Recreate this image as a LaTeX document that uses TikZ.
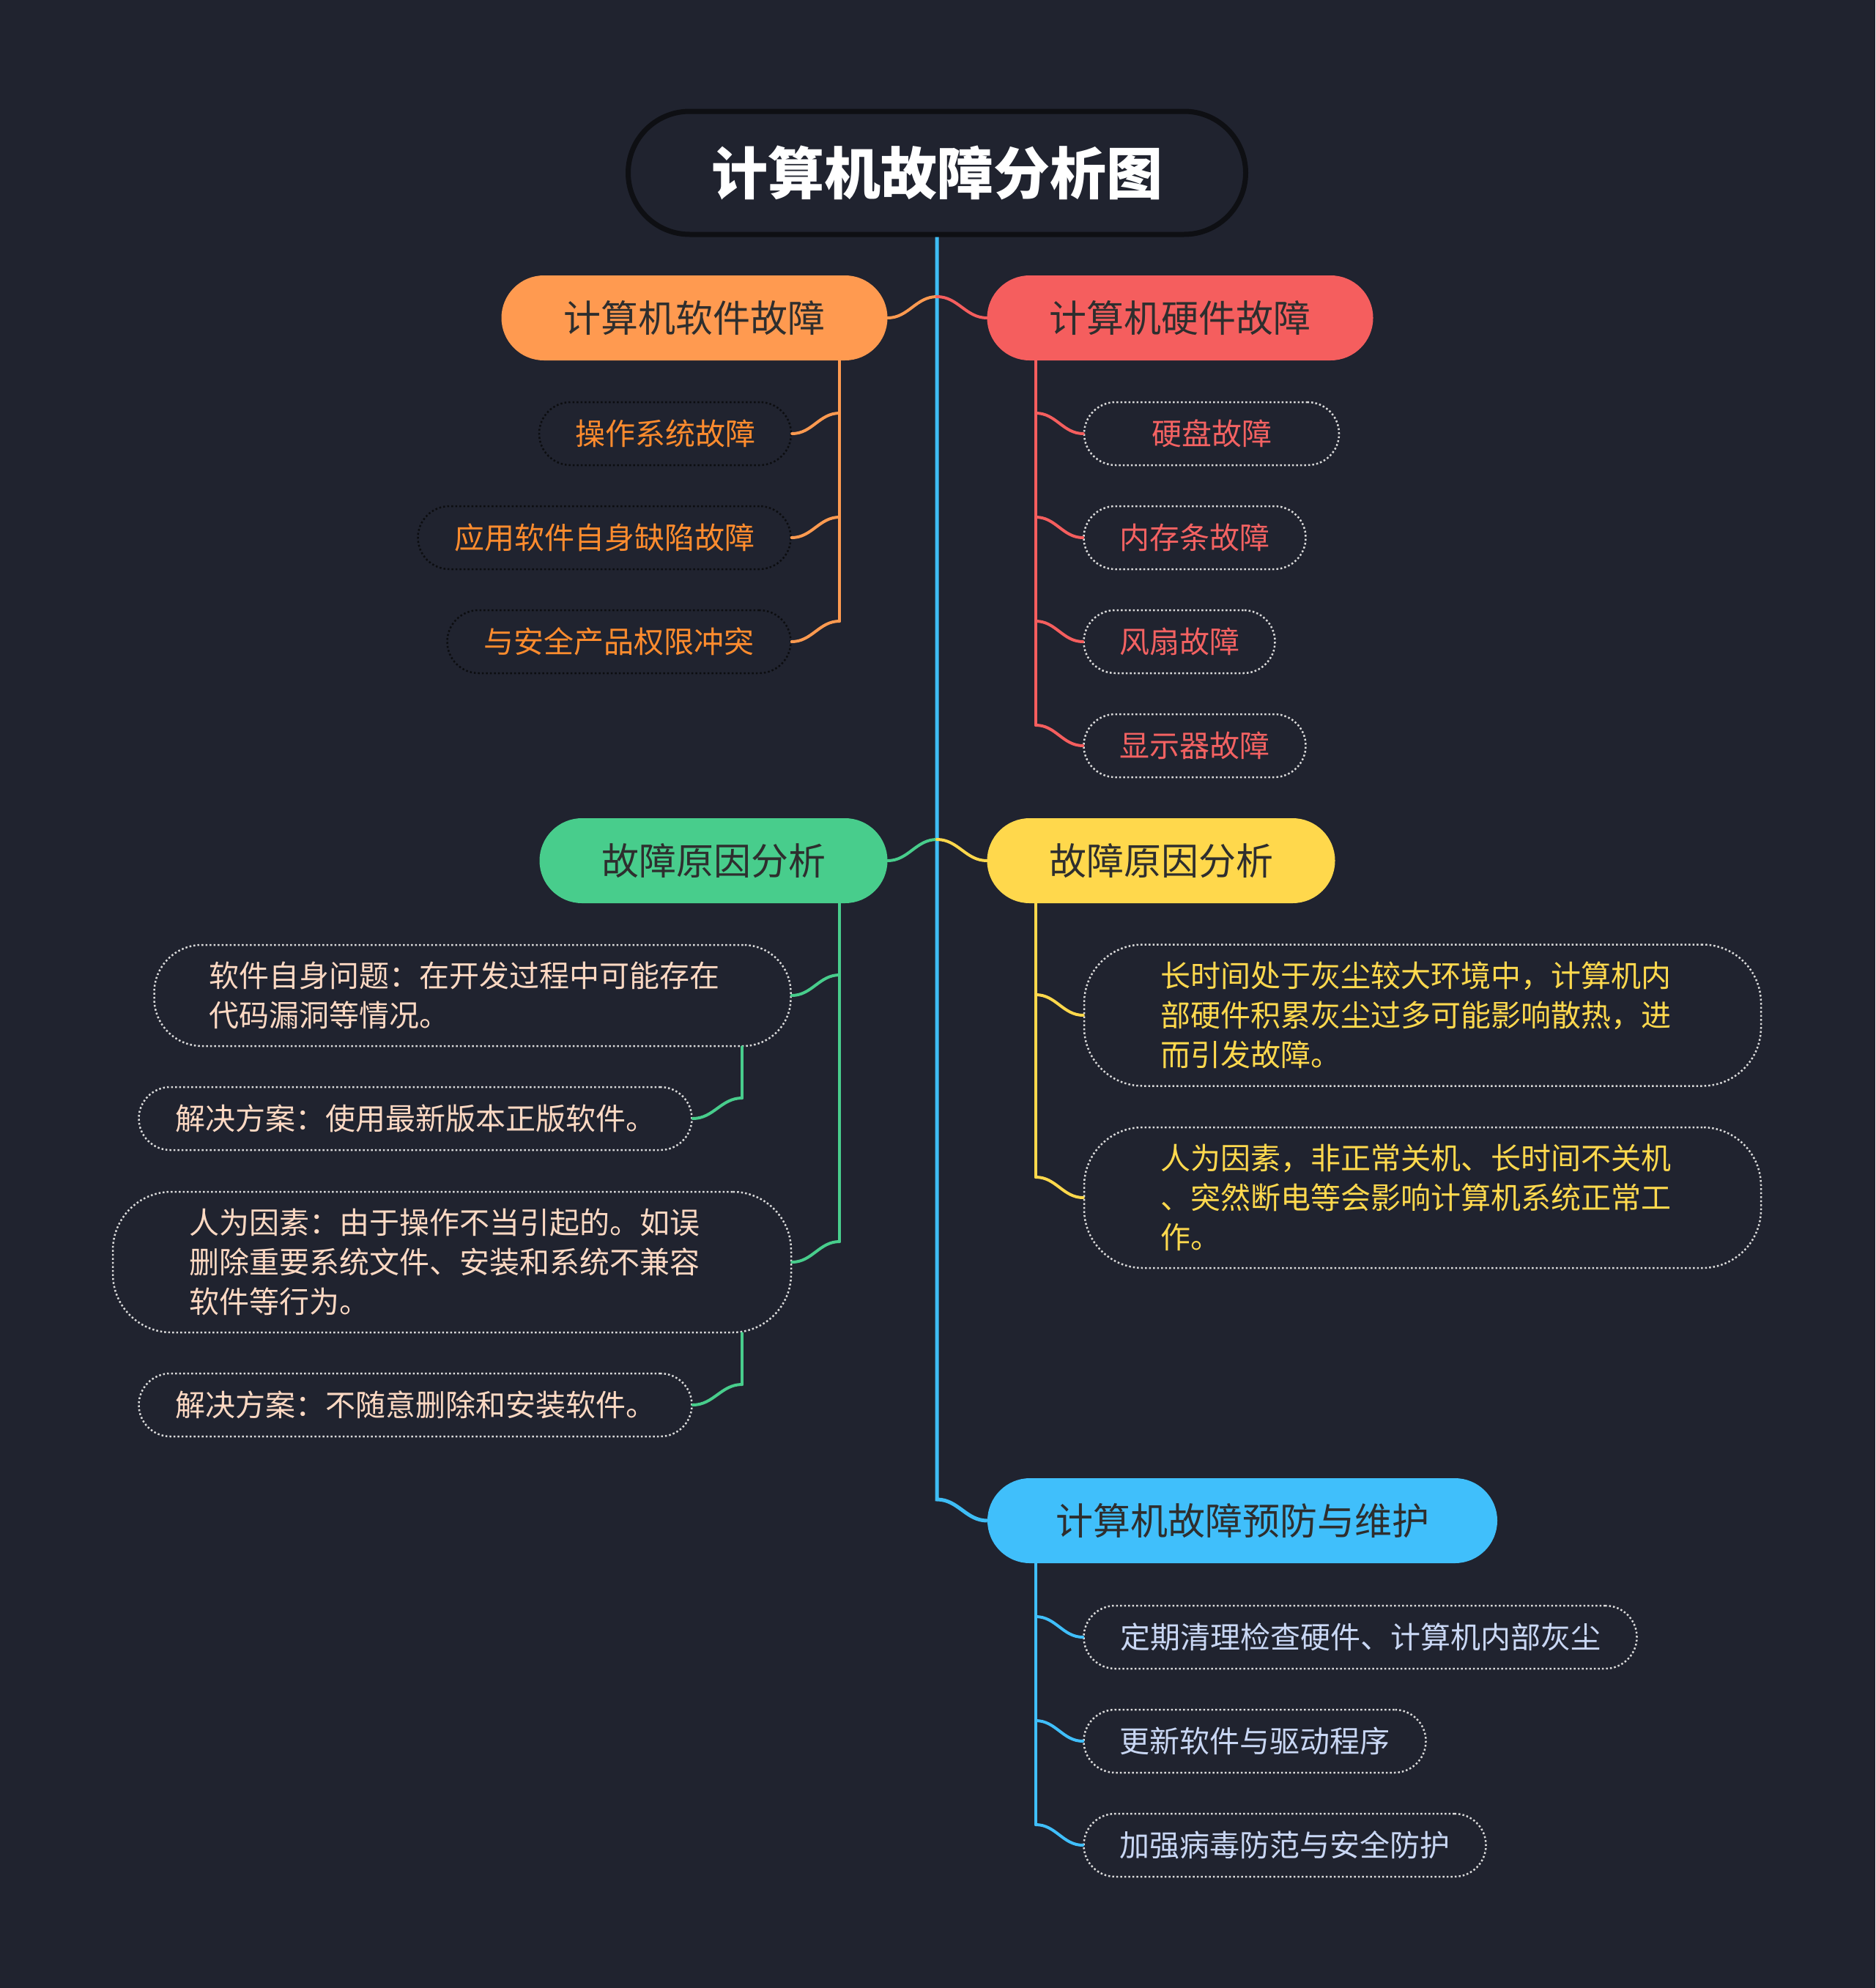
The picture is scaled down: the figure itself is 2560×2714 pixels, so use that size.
\documentclass[tikz,border=0pt]{standalone}
\usepackage{fontspec}
\setmainfont{Noto Sans CJK SC}
\definecolor{bgcol}{HTML}{20232F}
\definecolor{rootline}{HTML}{0E0F13}
\definecolor{mainblue}{HTML}{3EBDF5}
\definecolor{swfill}{HTML}{FF9A50}
\definecolor{hwfill}{HTML}{F55E5E}
\definecolor{gfill}{HTML}{48CD8C}
\definecolor{yfill}{HTML}{FFD84C}
\definecolor{pfill}{HTML}{40BFFB}
\definecolor{topictext}{HTML}{2E2E2E}
\definecolor{swtext}{HTML}{FF8C2E}
\definecolor{hwtext}{HTML}{F36262}
\definecolor{gtext}{HTML}{FDD9C3}
\definecolor{ytext}{HTML}{FFD94E}
\definecolor{ptext}{HTML}{C9D7F4}
\definecolor{darkdot}{HTML}{0C0D10}
\definecolor{lightdot}{HTML}{DADADA}
\tikzset{
    every edge/.style={draw,line width=4pt,line cap=round}
}

\begin{document}
\begin{tikzpicture}[x=1pt,y=-1pt,
                    root/.style={draw=rootline,line width=7pt,fill=bgcol,rounded corners=84pt,
                                 minimum width=843pt,minimum height=168pt,text=white,
                                 font=\fontsize{77}{90}\selectfont\bfseries},
                    topic/.style={fill=#1,rounded corners=58pt,minimum height=116pt,inner sep=0pt,
                                  text=topictext,font=\fontsize{51}{60}\selectfont},
                    leaf/.style={line width=2.5pt,dash pattern=on 2.5pt off 3pt,fill=bgcol,
                                 rounded corners=43pt,minimum height=86pt,inner sep=0pt,align=left,
                                 font=\fontsize{41}{54}\selectfont},
                    swleaf/.style={leaf,draw=darkdot,text=swtext},
                    hwleaf/.style={leaf,draw=lightdot,text=hwtext},
                    gleaf/.style={leaf,draw=lightdot,text=gtext},
                    yleaf/.style={leaf,draw=lightdot,text=ytext,rounded corners=80pt},
                    pleaf/.style={leaf,draw=lightdot,text=ptext},
                    mainline/.style={draw=mainblue,line width=5pt},
                    swline/.style={swfill},
                    hwline/.style={hwfill},
                    gline/.style={gfill},
                    yline/.style={yfill},
                    pline/.style={pfill}]

% Background
\fill[bgcol] (0,0) rectangle (2560,2714);
\useasboundingbox (0,0) rectangle (2560,2714);

% Root and topics
\node[root] (root) at (1279,236) {计算机故障分析图};
\node[topic=swfill,minimum width=527pt] (sw) at (948,434) {计算机软件故障};
\node[topic=hwfill,minimum width=527pt] (hw) at (1611,434) {计算机硬件故障};
\node[topic=gfill,minimum width=475pt] (gc) at (974,1175) {故障原因分析};
\node[topic=yfill,minimum width=475pt] (yc) at (1585,1175) {故障原因分析};
\node[topic=pfill,minimum width=696pt] (pv) at (1696,2076) {计算机故障预防与维护};

% Software
\node[swleaf,minimum width=344pt] (sw1) at (908,592) {操作系统故障};
\node[swleaf,minimum width=509pt] (sw2) at (825,734) {应用软件自身缺陷故障};
\node[swleaf,minimum width=469pt] (sw3) at (845,876) {与安全产品权限冲突};

% Hardware
\node[hwleaf,minimum width=348pt] (hw1) at (1654,592) {硬盘故障};
\node[hwleaf,minimum width=303pt] (hw2) at (1631,734) {内存条故障};
\node[hwleaf,minimum width=261pt] (hw3) at (1610,876) {风扇故障};
\node[hwleaf,minimum width=303pt] (hw4) at (1631,1018) {显示器故障};

% Causes, left
\node[gleaf,minimum width=869pt,text width=719pt,minimum height=138pt,rounded corners=65pt] (g1) at (645,1359)
    {软件自身问题：在开发过程中可能存在\\代码漏洞等情况。};
\node[gleaf,minimum width=755pt] (g1s) at (567,1527) {解决方案：使用最新版本正版软件。};
\node[gleaf,minimum width=926pt,text width=718pt,minimum height=192pt,rounded corners=80pt] (g2) at (617,1723)
    {人为因素：由于操作不当引起的。如误\\删除重要系统文件、安装和系统不兼容\\软件等行为。};
\node[gleaf,minimum width=755pt] (g2s) at (567,1918) {解决方案：不随意删除和安装软件。};

% Causes, right
\node[yleaf,minimum width=924pt,text width=716pt,minimum height=193pt] (y1) at (1942,1386)
    {长时间处于灰尘较大环境中，计算机内\\部硬件积累灰尘过多可能影响散热，进\\而引发故障。};
\node[yleaf,minimum width=924pt,text width=716pt,minimum height=192pt] (y2) at (1942,1635)
    {人为因素，非正常关机、长时间不关机\\、突然断电等会影响计算机系统正常工\\作。};

% Prevention
\node[pleaf,minimum width=755pt] (p1) at (1857,2235) {定期清理检查硬件、计算机内部灰尘};
\node[pleaf,minimum width=467pt] (p2) at (1713,2377) {更新软件与驱动程序};
\node[pleaf,minimum width=549pt] (p3) at (1754,2519) {加强病毒防范与安全防护};

% Junctions
\coordinate (topj) at (1279,405);
\coordinate (midj) at (1279,1146);
\coordinate (pvj) at (1279,2047);
\coordinate (swj1) at (1146,564);
\coordinate (swj2) at (1146,706);
\coordinate (swj3) at (1146,848);
\coordinate (hwj1) at (1414,564);
\coordinate (hwj2) at (1414,706);
\coordinate (hwj3) at (1414,848);
\coordinate (hwj4) at (1414,990);
\coordinate (gj1) at (1146,1331);
\coordinate (gj2) at (1146,1695);
\coordinate (gsj1) at (1013,1499);
\coordinate (gsj2) at (1013,1890);
\coordinate (yj1) at (1414,1358);
\coordinate (yj2) at (1414,1607);
\coordinate (pj1) at (1414,2207);
\coordinate (pj2) at (1414,2349);
\coordinate (pj3) at (1414,2491);

% Links
\draw[mainline] (root.south) -- (pvj) to[out=0,in=180] (pv.west);
\path (sw.east) edge[swline,out=0,in=180] (topj);
\path (topj) edge[hwline,out=0,in=180] (hw.west);
\path (gc.east) edge[gline,out=0,in=180] (midj);
\path (midj) edge[yline,out=0,in=180] (yc.west);

\path (sw.south -| swj1) edge[swline] (swj3);
\path (sw1.east) edge[swline,out=0,in=180] (swj1);
\path (sw2.east) edge[swline,out=0,in=180] (swj2);
\path (sw3.east) edge[swline,out=0,in=180] (swj3);

\path (hw.south -| hwj1) edge[hwline] (hwj4);
\path (hwj1) edge[hwline,out=0,in=180] (hw1.west);
\path (hwj2) edge[hwline,out=0,in=180] (hw2.west);
\path (hwj3) edge[hwline,out=0,in=180] (hw3.west);
\path (hwj4) edge[hwline,out=0,in=180] (hw4.west);

\path (gc.south -| gj1) edge[gline] (gj2);
\path (g1.east) edge[gline,out=0,in=180] (gj1);
\path (g2.east) edge[gline,out=0,in=180] (gj2);
\path (g1.south -| gsj1) edge[gline] (gsj1);
\path (gsj1) edge[gline,out=180,in=0] (g1s.east);
\path (g2.south -| gsj2) edge[gline] (gsj2);
\path (gsj2) edge[gline,out=180,in=0] (g2s.east);

\path (yc.south -| yj1) edge[yline] (yj2);
\path (yj1) edge[yline,out=0,in=180] (y1.west);
\path (yj2) edge[yline,out=0,in=180] (y2.west);

\path (pv.south -| pj1) edge[pline] (pj3);
\path (pj1) edge[pline,out=0,in=180] (p1.west);
\path (pj2) edge[pline,out=0,in=180] (p2.west);
\path (pj3) edge[pline,out=0,in=180] (p3.west);

\end{tikzpicture}
\end{document}
